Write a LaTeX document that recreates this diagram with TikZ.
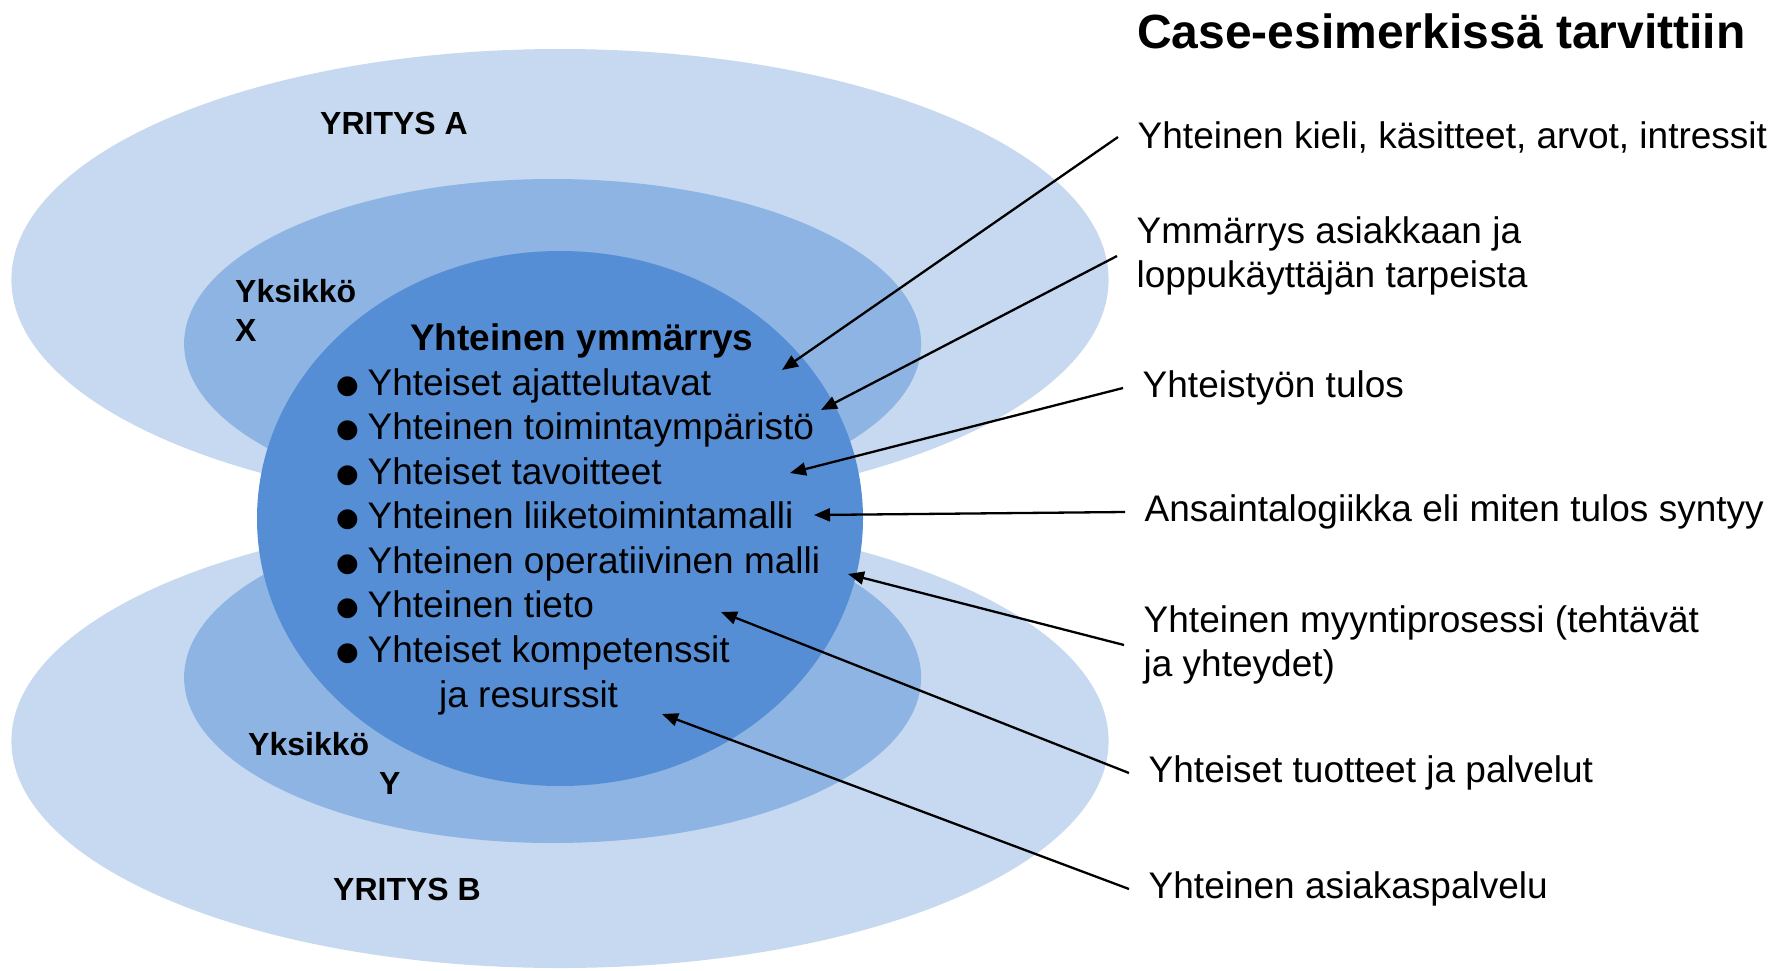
\documentclass[tikz,border=0pt]{standalone}
\usepackage{fontspec}
\setmainfont{Liberation Sans}
\newfontfamily\symfont{DejaVu Sans}
\usetikzlibrary{arrows.meta}
\definecolor{outerblue}{HTML}{C6D9F1}
\definecolor{midblue}{HTML}{8EB4E3}
\definecolor{innerblue}{HTML}{558ED5}
\newcommand{\bul}{\makebox[30.5pt][l]{\hspace*{-1pt}\raisebox{2pt}{\symfont\fontsize{26}{26}\selectfont ●}}}
\begin{document}
\begin{tikzpicture}[x=1pt,y=-1pt,
  lbl/.style={font=\fontsize{32}{39}\selectfont\bfseries, inner sep=0pt, align=left},
  item/.style={font=\fontsize{37}{44.6}\selectfont, inner sep=0pt, anchor=base west},
  need/.style={font=\fontsize{37}{44.5}\selectfont, inner xsep=19.5pt, inner ysep=0pt, anchor=west, align=left},
  arr/.style={-{Triangle[length=16pt,width=13pt]}, line width=2.3pt, black}]
\useasboundingbox (0,0) rectangle (1783,970);
% regions
\fill[outerblue] (560,279.6) ellipse [x radius=548.6pt, y radius=230.6pt];
\fill[outerblue] (560,741) ellipse [x radius=548.6pt, y radius=227pt];
\fill[midblue] (552.6,343.8) ellipse [x radius=368.5pt, y radius=164.8pt];
\fill[midblue] (552.6,677.4) ellipse [x radius=368.5pt, y radius=165.6pt];
\fill[innerblue] (560,518.5) ellipse [x radius=303pt, y radius=267.5pt];
% region labels
\node[lbl, anchor=base west] (yritysA) at (320,134) {YRITYS A};
\node[lbl, anchor=west] (yksX) at (235,310.8) {Yksikkö\\X};
\node[lbl, anchor=west] (yksY) at (248,763.3) {Yksikkö\\\hspace*{131pt}Y};
\node[lbl, anchor=base west] (yritysB) at (333,900) {YRITYS B};
% common understanding
\node[item, font=\fontsize{37}{44.6}\selectfont\bfseries] (yy) at (410,350) {Yhteinen ymmärrys};
\node[item] (i1) at (337,395) {\bul Yhteiset ajattelutavat};
\node[item] (i2) at (337,439.6) {\bul Yhteinen toimintaympäristö};
\node[item] (i3) at (337,484.1) {\bul Yhteiset tavoitteet};
\node[item] (i4) at (337,528.7) {\bul Yhteinen liiketoimintamalli};
\node[item] (i5) at (337,573.3) {\bul Yhteinen operatiivinen malli};
\node[item] (i6) at (337,617.9) {\bul Yhteinen tieto};
\node[item] (i7) at (337,662.4) {\bul Yhteiset kompetenssit};
\node[item] (i8) at (439,707) {ja resurssit};
% right column
\node[font=\fontsize{48}{56}\selectfont\bfseries, inner sep=0pt, anchor=base west] (title) at (1137,48) {Case-esimerkissä tarvittiin};
\node[need] (k1) at (1118,137) {Yhteinen kieli, käsitteet, arvot, intressit};
\node[need] (k2) at (1117,256) {Ymmärrys asiakkaan ja\\loppukäyttäjän tarpeista};
\node[need] (k3) at (1123,388) {Yhteistyön tulos};
\node[need] (k4) at (1125,512) {Ansaintalogiikka eli miten tulos syntyy};
\node[need] (k5) at (1124,645) {Yhteinen myyntiprosessi (tehtävät\\ja yhteydet)};
\node[need] (k6) at (1129,773) {Yhteiset tuotteet ja palvelut};
\node[need] (k7) at (1129,889) {Yhteinen asiakaspalvelu};
% arrow targets
\coordinate (t1) at (782,370);
\coordinate (t2) at (821,410);
\coordinate (t3) at (790,473);
\coordinate (t4) at (814,515);
\coordinate (t5) at (848,574);
\coordinate (t6) at (721,612);
\coordinate (t7) at (662,714);
\draw[arr] (k1.west) -- (t1);
\draw[arr] (k2.west) -- (t2);
\draw[arr] (k3.west) -- (t3);
\draw[arr] (k4.west) -- (t4);
\draw[arr] (k5.west) -- (t5);
\draw[arr] (k6.west) -- (t6);
\draw[arr] (k7.west) -- (t7);
\end{tikzpicture}
\end{document}
